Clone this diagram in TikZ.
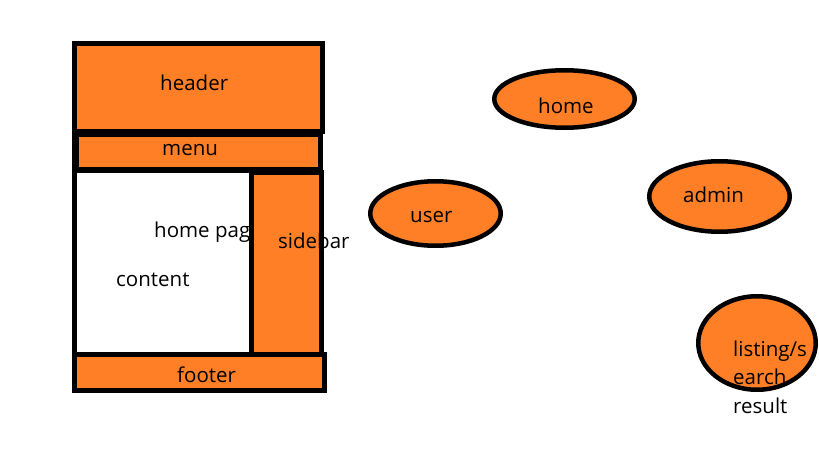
\documentclass[tikz,border=0pt]{standalone}
\usepackage{fontspec}
\setmainfont{Open Sans}
\usetikzlibrary{shapes.geometric}
\definecolor{paintorange}{RGB}{255,127,39}
\begin{document}
\begin{tikzpicture}[x=1pt,y=-1pt,
  box/.style={draw=black,line width=5pt,fill=paintorange,inner sep=0pt,outer sep=0pt,anchor=north west},
  oval/.style={ellipse,draw=black,line width=4.5pt,fill=paintorange,inner sep=0pt,outer sep=0pt},
  lbl/.style={inner sep=0pt,anchor=base west,font=\fontsize{20.5}{29}\selectfont}]
\useasboundingbox (0,0) rectangle (819,460);
% page layout
\node[box,minimum width=248pt,minimum height=87pt] (headerbox) at (74.5,44) {};
\node[box,minimum width=244pt,minimum height=35pt] (menubox) at (76.5,134.5) {};
\draw[line width=5pt] (74.5,128) -- (74.5,175);
\node[box,fill=white,minimum width=177.5pt,minimum height=184pt] (contentbox) at (74,170) {};
\node[lbl] (homepage) at (154,237) {home page};
\node[lbl] (content) at (116,286) {content};
\node[box,minimum width=70pt,minimum height=182.5pt] (sidebarbox) at (251.5,172) {};
\node[lbl] (sidebar) at (278,248) {sidebar};
\draw[line width=5pt] (sidebarbox.north east) -- (sidebarbox.south east);
\node[box,minimum width=250pt,minimum height=36.5pt] (footerbox) at (74.5,354) {};
\node[lbl] (header) at (160,90) {header};
\node[lbl] (menu) at (162,155) {menu};
\node[lbl] (footer) at (177,382) {footer};
% ellipses
\node[oval,minimum width=140.5pt,minimum height=57.5pt] (homeoval) at (564.5,99) {};
\node[lbl] (home) at (538,113) {home};
\node[oval,minimum width=130.5pt,minimum height=64.5pt] (useroval) at (435.5,213.5) {};
\node[lbl] (user) at (410,222) {user};
\node[oval,minimum width=140.5pt,minimum height=70.5pt] (adminoval) at (719.5,196.5) {};
\node[lbl] (admin) at (683,202) {admin};
\node[oval,minimum width=117.5pt,minimum height=93.5pt] (listingoval) at (757,343) {};
\node[lbl] (listing1) at (733,356) {listing/s};
\node[lbl] (listing2) at (733,384) {earch};
\node[lbl] (listing3) at (733,413) {result};
\end{tikzpicture}
\end{document}
